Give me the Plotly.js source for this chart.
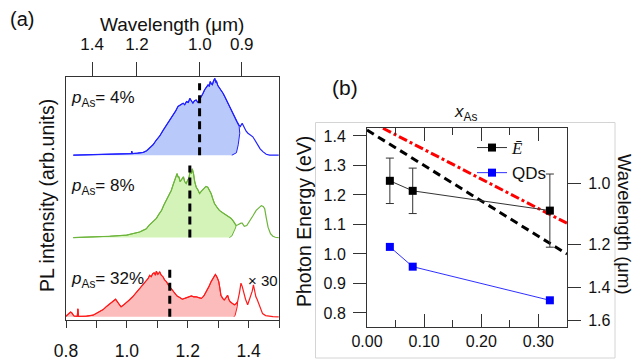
<!DOCTYPE html>
<html>
<head>
<meta charset="utf-8">
<script src="https://cdn.plot.ly/plotly-3.0.1.min.js"></script>
<style>html,body{margin:0;padding:0;background:#fff;}#chart{width:634px;height:362px;}</style>
</head>
<body>
<div id="chart"></div>
<script>
// ---------- Panel (a): PL spectra (photon energy in eV, intensity in arb. units) ----------
const energyBlue = [0.824,0.87,0.911,0.96,1.0,1.015,1.016,1.018,1.035,1.054,1.065,1.075,1.086,1.097,1.108,1.119,1.130,1.141,1.152,1.160,1.168,1.175,1.185,1.190,1.196,1.202,1.207,1.212,1.217,1.222,1.228,1.233,1.237,1.241,1.245,1.250,1.256,1.262,1.267,1.271,1.274,1.278,1.281,1.285,1.289,1.292,1.294,1.299,1.305,1.310,1.316,1.322,1.327,1.333,1.338,1.344,1.351,1.357,1.362,1.368,1.373,1.379,1.383,1.387,1.392,1.398,1.405,1.414,1.422,1.430,1.438,1.447,1.458,1.469,1.48,1.499];
const intensityBlue = [0,0.004,0.008,0.012,0.016,0.02,0.05,0.02,0.025,0.035,0.055,0.085,0.13,0.19,0.24,0.31,0.37,0.44,0.49,0.55,0.61,0.63,0.65,0.63,0.67,0.66,0.71,0.68,0.65,0.68,0.69,0.66,0.67,0.71,0.73,0.77,0.82,0.85,0.88,0.86,0.92,0.89,0.88,0.93,0.96,0.91,0.93,0.87,0.84,0.81,0.775,0.73,0.69,0.64,0.61,0.55,0.50,0.46,0.42,0.38,0.36,0.40,0.37,0.32,0.30,0.275,0.26,0.23,0.18,0.13,0.08,0.045,0.012,0.002,0,0];
const blueFillCut = 1.362;
const blueEdgeE = [1.369,1.371,1.366,1.360,1.345];
const blueEdgeI = [0.36,0.275,0.13,0.03,0];

const energyGreen = [0.824,0.88,0.944,0.999,1.02,1.042,1.053,1.064,1.072,1.081,1.089,1.097,1.105,1.114,1.122,1.130,1.138,1.146,1.152,1.157,1.161,1.165,1.168,1.171,1.175,1.179,1.183,1.186,1.190,1.195,1.200,1.204,1.208,1.212,1.215,1.219,1.223,1.228,1.233,1.239,1.245,1.250,1.255,1.260,1.266,1.271,1.277,1.282,1.288,1.296,1.304,1.315,1.326,1.335,1.343,1.351,1.359,1.365,1.370,1.375,1.379,1.386,1.394,1.403,1.414,1.425,1.434,1.442,1.448,1.453,1.458,1.464,1.472,1.480,1.488,1.499];
const intensityGreen = [0,0.006,0.017,0.03,0.045,0.07,0.09,0.11,0.15,0.18,0.21,0.24,0.29,0.34,0.41,0.47,0.53,0.59,0.66,0.72,0.78,0.80,0.76,0.76,0.70,0.72,0.75,0.76,0.70,0.675,0.72,0.74,0.84,0.80,0.86,0.80,0.70,0.63,0.60,0.55,0.58,0.60,0.61,0.64,0.63,0.60,0.55,0.49,0.425,0.38,0.34,0.31,0.28,0.26,0.24,0.20,0.15,0.16,0.175,0.18,0.18,0.14,0.15,0.20,0.27,0.34,0.37,0.40,0.39,0.36,0.25,0.13,0.05,0.017,0.004,0];
const greenFillCut = 1.359;
const greenEdgeE = [1.357,1.351,1.345,1.337];
const greenEdgeI = [0.12,0.06,0.02,0];

const energyRed = [0.800,0.808,0.815,0.819,0.826,0.837,0.839,0.841,0.867,0.889,0.900,0.911,0.922,0.932,0.944,0.955,0.963,0.972,0.981,0.990,0.997,1.008,1.019,1.030,1.041,1.052,1.063,1.070,1.075,1.080,1.085,1.090,1.094,1.097,1.102,1.108,1.113,1.119,1.124,1.130,1.136,1.141,1.149,1.157,1.165,1.174,1.182,1.190,1.200,1.212,1.220,1.228,1.236,1.245,1.253,1.261,1.270,1.277,1.285,1.291,1.297,1.302,1.306,1.309,1.315,1.320,1.326,1.331,1.335,1.339,1.346,1.353,1.358,1.364,1.370,1.375,1.379,1.383,1.390,1.397,1.402,1.408,1.412,1.416,1.420,1.424,1.428,1.433,1.440,1.446,1.456,1.468,1.480,1.499];
const intensityRed = [0.008,0.03,0.06,0.05,0.01,0.005,0.10,0.005,0.008,0.02,0.04,0.06,0.09,0.125,0.16,0.20,0.22,0.17,0.125,0.15,0.17,0.21,0.25,0.30,0.35,0.40,0.46,0.48,0.52,0.50,0.54,0.55,0.52,0.57,0.53,0.56,0.52,0.50,0.46,0.44,0.40,0.375,0.33,0.29,0.26,0.24,0.22,0.23,0.24,0.26,0.25,0.25,0.24,0.23,0.26,0.31,0.38,0.44,0.50,0.53,0.49,0.44,0.35,0.27,0.23,0.21,0.24,0.27,0.22,0.19,0.17,0.15,0.16,0.19,0.30,0.42,0.38,0.31,0.22,0.15,0.20,0.27,0.32,0.40,0.32,0.25,0.22,0.17,0.10,0.04,0.015,0.008,0.003,0];
const redFillCut = 1.364;
const redEdgeE = [1.363,1.360,1.356,1.352];
const redEdgeI = [0.13,0.06,0.02,0];

const spectrumOffsets = [2.06, 1.03, 0.04];           // blue, green, red baselines
const meanEnergyA = [1.239, 1.207, 1.141];             // dashed markers in (a)
const meanMarkHeight = [0.90, 0.90, 0.60];
const spectrumLabels = ["<i>p</i><sub>As</sub>= 4%", "<i>p</i><sub>As</sub>= 8%", "<i>p</i><sub>As</sub>= 32%"];
const wavelengthTicksA = [1.4, 1.2, 1.0, 0.9];
const HC = 1.2398;  // eV·μm

// ---------- Panel (b) ----------
const xAs = [0.04, 0.08, 0.32];
const meanE = [1.248, 1.214, 1.147];
const meanEErr = [0.077, 0.077, 0.124];
const qdE = [1.024, 0.957, 0.843];
const guideX = [0, 0.35];
const guideBlack = [1.42, 1.00];
const guideRed = [1.454, 1.104];
const wavelengthTicksB = [1.0, 1.2, 1.4, 1.6];

// ---------- helpers ----------
const colors = {
  blue: {line: '#1f1fff', fill: 'rgba(185,202,250,1)'},
  green: {line: '#6cb43a', fill: 'rgba(212,243,185,1)'},
  red: {line: '#ff1a1a', fill: 'rgba(252,188,188,1)'}
};
function spectrumTraces(E, I, cut, edgeE, edgeI, off, c) {
  const fx = [], fy = [];
  for (let i = 0; i < E.length; i++) { if (E[i] <= cut) { fx.push(E[i]); fy.push(I[i] + off); } }
  fx.unshift(fx[0]); fy.unshift(off);
  for (let i = 0; i < edgeE.length; i++) { fx.push(edgeE[i]); fy.push(edgeI[i] + off); }
  return [
    {x: fx, y: fy, xaxis: 'x', yaxis: 'y', mode: 'lines', fill: 'toself', fillcolor: c.fill,
     line: {color: c.line, width: 1}, showlegend: false, hoverinfo: 'skip'},
    {x: E, y: I.map(v => v + off), xaxis: 'x', yaxis: 'y', mode: 'lines',
     line: {color: c.line, width: 1.2}, showlegend: false, hoverinfo: 'skip'}
  ];
}

const traces = [];
traces.push(...spectrumTraces(energyBlue, intensityBlue, blueFillCut, blueEdgeE, blueEdgeI, spectrumOffsets[0], colors.blue));
traces.push(...spectrumTraces(energyGreen, intensityGreen, greenFillCut, greenEdgeE, greenEdgeI, spectrumOffsets[1], colors.green));
traces.push(...spectrumTraces(energyRed, intensityRed, redFillCut, redEdgeE, redEdgeI, spectrumOffsets[2], colors.red));
for (let k = 0; k < 3; k++) {
  traces.push({x: [meanEnergyA[k], meanEnergyA[k]], y: [spectrumOffsets[k], spectrumOffsets[k] + meanMarkHeight[k]],
    xaxis: 'x', yaxis: 'y', mode: 'lines', line: {color: '#000', width: 3, dash: '8px,5px'}, showlegend: false, hoverinfo: 'skip'});
}
// dummy trace for top wavelength axis
traces.push({x: [0.8, 1.5], y: [null, null], xaxis: 'x2', yaxis: 'y', mode: 'lines', showlegend: false, hoverinfo: 'skip'});

// panel b
traces.push({x: guideX, y: guideBlack, xaxis: 'x3', yaxis: 'y3', mode: 'lines',
  line: {color: '#000', width: 3, dash: '8px,5px'}, showlegend: false, hoverinfo: 'skip'});
traces.push({x: guideX, y: guideRed, xaxis: 'x3', yaxis: 'y3', mode: 'lines',
  line: {color: '#ff0000', width: 3, dash: '9px,3px,3px,3px'}, showlegend: false, hoverinfo: 'skip'});
traces.push({x: xAs, y: meanE, xaxis: 'x3', yaxis: 'y3', mode: 'lines+markers',
  name: "<span style='font-family:Liberation Serif'><i>Ē</i></span>",
  line: {color: '#333', width: 1}, marker: {symbol: 'square', size: 8, color: '#000'},
  error_y: {type: 'data', array: meanEErr, visible: true, color: '#333', thickness: 1, width: 4}});
traces.push({x: xAs, y: qdE, xaxis: 'x3', yaxis: 'y3', mode: 'lines+markers', name: 'QDs',
  line: {color: '#3030ff', width: 1}, marker: {symbol: 'square', size: 8, color: '#0000ff'}});
traces.push({x: [0, 0.35], y: [null, null], xaxis: 'x4', yaxis: 'y3', mode: 'lines', showlegend: false, hoverinfo: 'skip'});
traces.push({x: [0, 0.35], y: [null, null], xaxis: 'x3', yaxis: 'y4', mode: 'lines', showlegend: false, hoverinfo: 'skip'});

const W = 634, H = 362;
const px = x => x / W, py = y => 1 - y / H;
const axCol = '#333';
const font = 'Arial, "Liberation Sans", sans-serif';
function ann(text, x, y, size, extra) {
  return Object.assign({text: text, x: px(x), y: py(y), xref: 'paper', yref: 'paper', showarrow: false,
    xanchor: 'center', yanchor: 'middle', font: {size: size}}, extra || {});
}

const layout = {
  width: W, height: H, margin: {l: 0, r: 0, t: 0, b: 0},
  paper_bgcolor: '#fff', plot_bgcolor: 'rgba(0,0,0,0)',
  font: {family: font, color: '#111', size: 16},
  showlegend: true,
  legend: {x: px(472), y: py(130), xanchor: 'left', yanchor: 'top', bgcolor: 'rgba(0,0,0,0)',
    font: {size: 17, family: font}, tracegroupgap: 0, itemwidth: 30},
  xaxis: {domain: [px(66), px(279)], range: [0.8, 1.5], anchor: 'y', tick0: 0.8, dtick: 0.2, tickformat: '.1f',
    ticks: 'outside', ticklen: 7, tickcolor: axCol, showline: true, linecolor: axCol, linewidth: 1,
    minor: {dtick: 0.1, ticks: 'outside', ticklen: 7, tickcolor: axCol},
    showgrid: false, zeroline: false, tickfont: {size: 17.5}, ticklabelstandoff: 8},
  xaxis2: {overlaying: 'x', side: 'top', anchor: 'y', range: [0.8, 1.5],
    tickmode: 'array', tickvals: wavelengthTicksA.map(l => HC / l), ticktext: wavelengthTicksA.map(l => l.toFixed(1)),
    ticks: 'outside', ticklen: 14, tickcolor: axCol, showline: true, linecolor: axCol,
    showgrid: false, zeroline: false, tickfont: {size: 17}, ticklabelstandoff: 5},
  yaxis: {domain: [py(320), py(77)], range: [0, 3.0375], anchor: 'x', showline: true, mirror: true,
    linecolor: axCol, ticks: '', showticklabels: false, showgrid: false, zeroline: false},
  xaxis3: {domain: [px(367), px(567)], range: [0, 0.35], anchor: 'y3', dtick: 0.1, tick0: 0, tickformat: '.2f',
    ticks: 'inside', ticklen: 13, tickcolor: axCol, showline: true, linecolor: axCol,
    minor: {dtick: 0.05, ticks: 'inside', ticklen: 7, tickcolor: axCol},
    showgrid: false, zeroline: false, tickfont: {size: 16}, ticklabelstandoff: 0},
  xaxis4: {overlaying: 'x3', side: 'top', anchor: 'y3', range: [0, 0.35], dtick: 0.1, tick0: 0,
    ticks: 'inside', ticklen: 13, tickcolor: axCol, showline: true, linecolor: axCol,
    minor: {dtick: 0.05, ticks: 'inside', ticklen: 7, tickcolor: axCol},
    showticklabels: false, showgrid: false, zeroline: false},
  yaxis3: {domain: [py(327), py(128)], range: [0.7525, 1.427], anchor: 'x3', tick0: 0.8, dtick: 0.1, tickformat: '.1f',
    ticks: 'outside', ticklen: 13, tickcolor: axCol, showline: true, linecolor: axCol,
    showgrid: false, zeroline: false, tickfont: {size: 16}, ticklabelstandoff: 4},
  yaxis4: {overlaying: 'y3', side: 'right', anchor: 'x3', range: [0.7525, 1.427],
    tickmode: 'array', tickvals: wavelengthTicksB.map(l => HC / l), ticktext: wavelengthTicksB.map(l => l.toFixed(1)),
    ticks: 'outside', ticklen: 13, tickcolor: axCol, showline: true, linecolor: axCol,
    showgrid: false, zeroline: false, tickfont: {size: 16}, ticklabelstandoff: 4},
  shapes: [
    {type: 'rect', xref: 'paper', yref: 'paper', x0: px(315.5), x1: px(615), y0: py(358), y1: py(122.5),
     line: {color: '#d4d4d4', width: 1}, layer: 'below'}
  ],
  annotations: [
    ann('(a)', 22, 19, 20),
    ann('Wavelength (μm)', 172, 25, 19),
    ann('PL intensity (arb.units)', 47, 196, 19.5, {textangle: -90}),
    ann(spectrumLabels[0], 69, 99, 17, {xanchor: 'left'}),
    ann(spectrumLabels[1], 69, 187, 17, {xanchor: 'left'}),
    ann(spectrumLabels[2], 69, 280, 17, {xanchor: 'left'}),
    ann('× 30', 263, 280, 15),
    ann('(b)', 345, 87, 21),
    ann('<i>x</i><sub>As</sub>', 465, 113, 17),
    ann('Photon Energy (eV)', 304, 222, 19.5, {textangle: -90}),
    ann('Wavelength (μm)', 625, 224, 18.5, {textangle: 90})
  ]
};

Plotly.newPlot('chart', traces, layout, {displayModeBar: false, staticPlot: true});
</script>
</body>
</html>
